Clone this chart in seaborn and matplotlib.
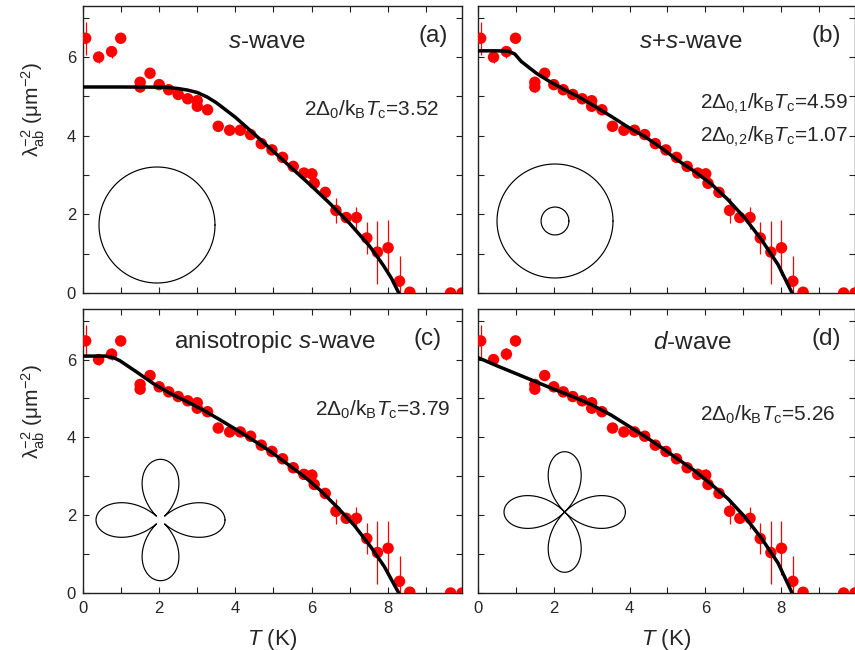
import numpy as np
import pandas as pd
import matplotlib
matplotlib.use("Agg")
import matplotlib.pyplot as plt
import seaborn as sns

# ---------------- data ----------------
T_data = [0.07, 0.41, 0.75, 0.99, 1.50, 1.50, 1.76, 2.00, 2.25, 2.50, 2.75, 3.00,
          3.00, 3.27, 3.55, 3.85, 4.13, 4.40, 4.68, 4.96, 5.24, 5.52, 5.80, 6.01,
          6.07, 6.36, 6.64, 6.91, 7.18, 7.45, 7.73, 8.01, 8.31, 8.58, 9.65, 9.95]
lam_data = [6.48, 6.00, 6.14, 6.48, 5.36, 5.24, 5.59, 5.30, 5.17, 5.05, 4.94, 4.89,
            4.75, 4.66, 4.24, 4.14, 4.14, 4.03, 3.80, 3.64, 3.45, 3.22, 3.05, 3.03,
            2.79, 2.56, 2.10, 1.92, 1.92, 1.40, 1.04, 1.15, 0.30, 0.02, 0.00, 0.00]
lam_err = [0.42, 0.15, 0.15, 0.12, 0.12, 0.12, 0.08, 0.08, 0.08, 0.08, 0.08, 0.12,
           0.12, 0.08, 0.08, 0.08, 0.08, 0.08, 0.08, 0.08, 0.08, 0.08, 0.08, 0.15,
           0.08, 0.08, 0.32, 0.08, 0.28, 0.40, 0.80, 0.70, 0.64, 0.05, 0.05, 0.05]

T_fit_a = [0.0, 1.0, 2.0, 2.25, 2.5, 2.75, 3.0, 3.25, 3.5, 4.0, 4.5, 5.0, 5.5, 6.0,
           6.5, 7.0, 7.5, 7.7, 7.9, 8.1, 8.29]
y_fit_a = [5.24, 5.24, 5.235, 5.225, 5.20, 5.16, 5.10, 4.99, 4.84, 4.47, 4.04, 3.60,
           3.16, 2.72, 2.26, 1.77, 1.22, 0.96, 0.68, 0.37, 0.0]

T_fit_b = [0.0, 0.5, 0.8, 0.97, 1.14, 1.54, 1.89, 2.29, 2.64, 3.08, 3.52, 3.96, 4.40,
           4.84, 5.28, 5.72, 6.15, 6.60, 7.04, 7.48, 7.92, 8.29]
y_fit_b = [6.16, 6.16, 6.15, 6.08, 5.89, 5.59, 5.38, 5.17, 5.00, 4.75, 4.49, 4.22, 3.98,
           3.69, 3.37, 3.09, 2.78, 2.37, 1.91, 1.36, 0.72, 0.0]

T_fit_c = [0.0, 0.6, 0.8, 0.97, 1.41, 1.85, 2.29, 2.73, 3.16, 3.60, 4.04, 4.48, 4.92,
           5.36, 5.80, 6.24, 6.68, 7.12, 7.56, 7.91, 8.29]
y_fit_c = [6.09, 6.09, 6.05, 5.97, 5.68, 5.38, 5.13, 4.92, 4.70, 4.45, 4.19, 3.92, 3.64,
           3.32, 3.00, 2.63, 2.20, 1.74, 1.18, 0.68, 0.0]

T_fit_d = [0.0, 0.5, 1.0, 1.5, 2.0, 2.5, 3.0, 3.52, 3.96, 4.40, 4.84, 5.28, 5.72, 6.15,
           6.60, 7.04, 7.48, 7.92, 8.29]
y_fit_d = [6.05, 5.84, 5.64, 5.44, 5.24, 5.05, 4.84, 4.57, 4.30, 4.03, 3.74, 3.44, 3.14,
           2.80, 2.42, 1.96, 1.41, 0.77, 0.0]

titles = [r"$s$-wave", r"$s$+$s$-wave", r"anisotropic $s$-wave", r"$d$-wave"]
labels = ["(a)", "(b)", "(c)", "(d)"]
gap_texts = [[r"2$\mathrm{Δ}_0$/k$_\mathrm{B}$$T_\mathrm{c}$=3.52"],
             [r"2$\mathrm{Δ}_{0,\!1}$/k$_\mathrm{B}$$T_\mathrm{c}$=4.59",
              r"2$\mathrm{Δ}_{0,\!2}$/k$_\mathrm{B}$$T_\mathrm{c}$=1.07"],
             [r"2$\mathrm{Δ}_0$/k$_\mathrm{B}$$T_\mathrm{c}$=3.79"],
             [r"2$\mathrm{Δ}_0$/k$_\mathrm{B}$$T_\mathrm{c}$=5.26"]]
x_ticks = [0, 1, 2, 3, 4, 5, 6, 7, 8, 9]
y_ticks = [0, 1, 2, 3, 4, 5, 6, 7]

# ---------------- style ----------------
sns.set_theme(style="ticks")
plt.rcParams["font.family"] = ["Liberation Sans", "DejaVu Sans"]
plt.rcParams["mathtext.fontset"] = "custom"
plt.rcParams["mathtext.rm"] = "Liberation Sans"
plt.rcParams["mathtext.it"] = "Liberation Sans:italic"
plt.rcParams["mathtext.bf"] = "Liberation Sans:bold"

W, H = 855, 650
fig = plt.figure(figsize=(W / 100, H / 100), dpi=100)

def px_axes(x0, y0, x1, y1):
    return fig.add_axes([x0 / W, 1 - y1 / H, (x1 - x0) / W, (y1 - y0) / H])

boxes = [(83, 6, 462, 293), (478, 6, 855, 293), (83, 309, 462, 593), (478, 309, 855, 593)]
fits = [(T_fit_a, y_fit_a), (T_fit_b, y_fit_b), (T_fit_c, y_fit_c), (T_fit_d, y_fit_d)]
title_pos = [(0.485, 0.875), (0.566, 0.875), (0.507, 0.884), (0.569, 0.880)]
label_pos = [(0.923, 0.895), (0.923, 0.895), (0.91, 0.895), (0.923, 0.895)]
gap_pos = [[(0.763, 0.638, "center")],
           [(0.982, 0.66, "right"), (0.982, 0.543, "right")],
           [(0.79, 0.644, "center")], [(0.77, 0.627, "center")]]

df = pd.DataFrame({"T": T_data, "lam": lam_data, "err": lam_err})

for i, box in enumerate(boxes):
    ax = px_axes(*box)
    ax.errorbar(df["T"], df["lam"], yerr=df["err"], fmt="none", ecolor="red",
                elinewidth=0.9, capsize=0, zorder=2)
    sns.scatterplot(data=df, x="T", y="lam", ax=ax, color="red", s=68,
                    edgecolor="none", linewidth=0, zorder=3, legend=False)
    ft = pd.DataFrame({"T": fits[i][0], "y": fits[i][1]})
    sns.lineplot(data=ft, x="T", y="y", ax=ax, color="black", lw=2.5,
                 sort=False, estimator=None, zorder=4)
    ax.set_xlim(0, 9.95)
    ax.set_ylim(0, 7.3)
    ax.set_xticks(x_ticks)
    ax.set_yticks(y_ticks)
    bottom = i >= 2
    left = i % 2 == 0
    ax.set_xticklabels([str(t) if t % 2 == 0 else "" for t in x_ticks] if bottom else [])
    ax.set_yticklabels([str(t) if t % 2 == 0 and t < 7 else "" for t in y_ticks] if left else [])
    ax.tick_params(direction="in", length=4, width=0.8, top=True, right=True,
                   labelsize=12, color="#222222")
    ax.tick_params(axis="x", pad=6)
    ax.tick_params(axis="y", pad=5)
    for sp in ax.spines.values():
        sp.set_linewidth(1.0)
        sp.set_color("#222222")
    if bottom:
        ax.set_xlabel(r"$T$ (K)", fontsize=16)
        ax.xaxis.set_label_coords(0.5, -0.118)
    else:
        ax.set_xlabel("")
    if left:
        ax.set_ylabel(r"$\mathrm{λ}^{-2}_{\mathrm{ab}}$ ($\mathrm{μ}$m$^{-2}$)", fontsize=15)
        ax.yaxis.set_label_coords(-0.095, 0.64)
    else:
        ax.set_ylabel("")
    ax.text(*title_pos[i], titles[i], transform=ax.transAxes, ha="center", va="center",
            fontsize=17.5)
    ax.text(*label_pos[i], labels[i], transform=ax.transAxes, ha="center", va="center",
            fontsize=17.5)
    for txt, (px, py, ha) in zip(gap_texts[i], gap_pos[i]):
        ax.text(px, py, txt, transform=ax.transAxes, ha=ha, va="center", fontsize=15)

# ---------------- gap-symmetry sketches ----------------
def inset(cx, cy, hw, hh):
    a = px_axes(cx - hw, cy - hh, cx + hw, cy + hh)
    a.set_xlim(-1, 1)
    a.set_ylim(-1, 1)
    a.axis("off")
    a.patch.set_alpha(0)
    return a

th = np.linspace(0, 2 * np.pi, 721)
kw = dict(color="black", lw=0.85, clip_on=False)

a1 = inset(157, 225, 58, 58)
a1.plot(np.cos(th), np.sin(th), **kw)

a2 = inset(555, 221, 58, 57)
a2.plot(np.cos(th), np.sin(th), **kw)
a2.plot(0.24 * np.cos(th), 0.245 * np.sin(th), **kw)

a3 = inset(160.5, 520, 64.5, 60.7)
r3 = 0.09 + 0.91 * np.abs(np.cos(2 * th))
a3.plot(r3 * np.cos(th), r3 * np.sin(th), **kw)

a4 = inset(564.7, 512, 60.7, 60.3)
r4 = np.abs(np.cos(2 * th))
a4.plot(r4 * np.cos(th), r4 * np.sin(th), **kw)

fig.savefig("out.png", dpi=100)
